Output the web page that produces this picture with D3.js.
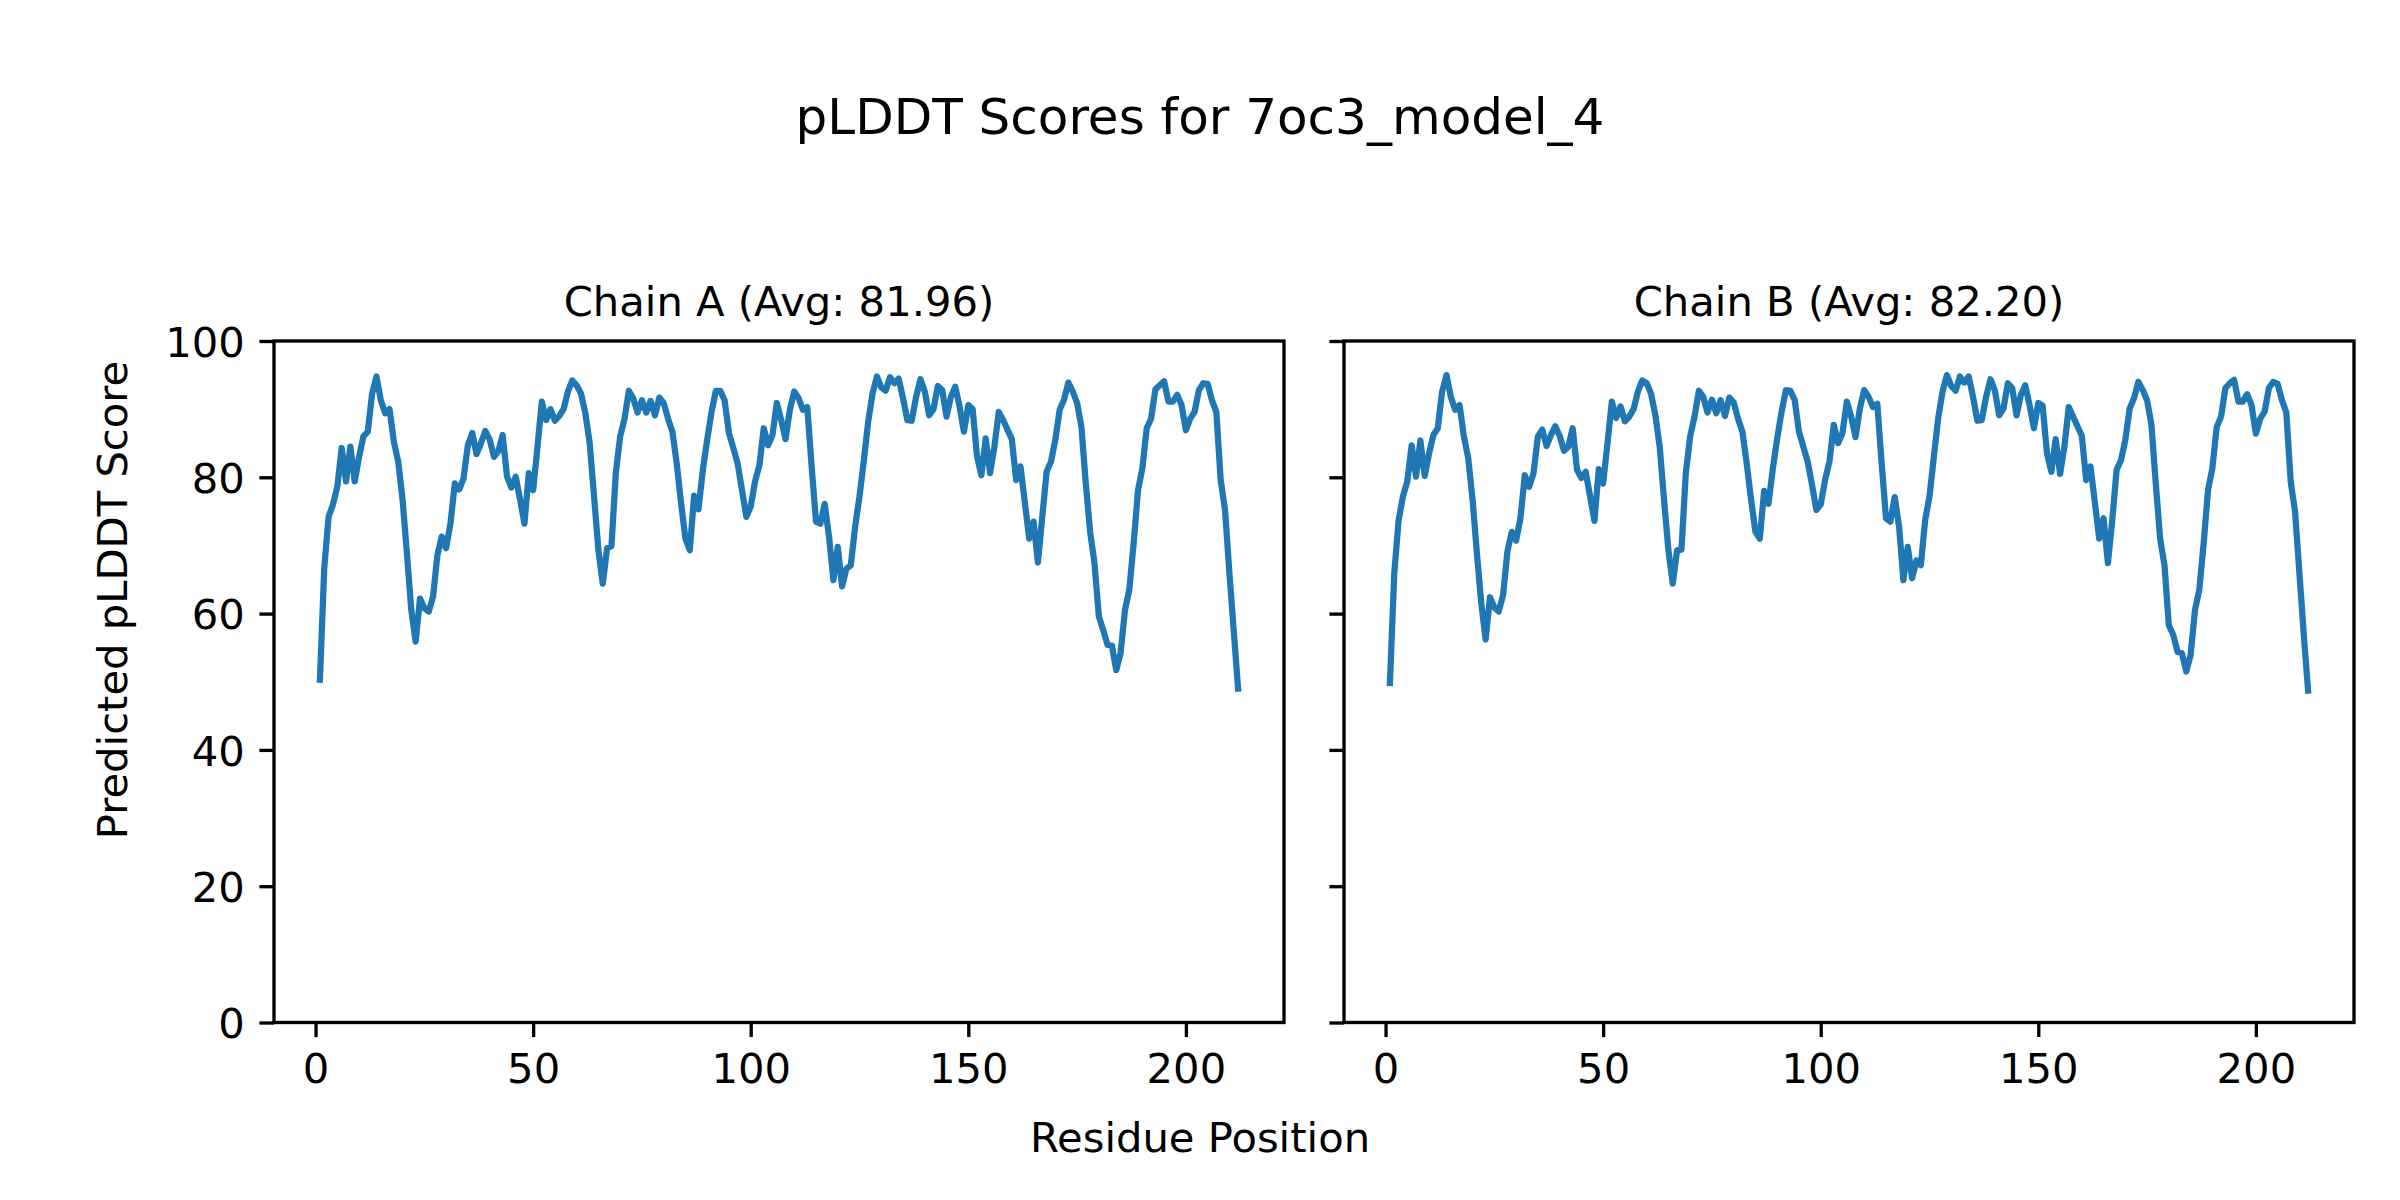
<!DOCTYPE html>
<html>
<head>
<meta charset="utf-8">
<script src="https://cdn.jsdelivr.net/npm/d3@7"></script>
<style>
  body { margin: 0; background: #fff; }
  text { font-family: "DejaVu Sans", sans-serif; fill: #000; }
</style>
</head>
<body>
<div id="chart"></div>
<script>
// pLDDT per residue
const chainA = [
    50.3, 66.7, 74.2, 76.0, 78.6, 84.3, 79.4, 84.5, 79.4, 83.0,
    86.0, 86.7, 92.3, 94.8, 91.3, 89.4, 90.0, 85.2, 82.3, 76.7,
    68.8, 60.5, 55.9, 62.2, 60.8, 60.3, 62.5, 68.6, 71.3, 69.6,
    73.2, 79.1, 78.2, 79.8, 84.7, 86.5, 83.4, 85.0, 86.8, 85.6,
    83.0, 83.8, 86.2, 80.1, 78.5, 80.1, 76.7, 73.2, 80.6, 78.1,
    84.5, 91.1, 88.4, 90.0, 88.3, 89.0, 90.0, 92.6, 94.2, 93.5,
    92.3, 89.4, 85.0, 77.2, 69.3, 64.4, 69.6, 69.9, 80.6, 86.0,
    88.6, 92.7, 91.6, 89.5, 91.3, 89.5, 91.2, 89.1, 91.7, 90.9,
    88.6, 86.7, 82.0, 76.2, 71.0, 69.3, 77.3, 75.3, 81.1, 85.5,
    89.6, 92.7, 92.7, 91.3, 86.5, 84.3, 82.0, 78.1, 74.2, 75.7,
    79.4, 81.8, 87.2, 84.7, 86.2, 90.9, 88.4, 85.6, 89.9, 92.6,
    91.6, 89.9, 90.3, 81.6, 73.5, 73.2, 76.1, 71.3, 64.9, 69.8,
    64.0, 66.6, 67.1, 72.8, 77.2, 82.5, 88.2, 92.3, 94.8, 93.2,
    92.7, 94.7, 93.8, 94.5, 91.6, 88.4, 88.3, 91.8, 94.4, 92.6,
    89.1, 90.0, 93.4, 92.8, 88.9, 91.8, 93.3, 90.4, 86.7, 90.6,
    90.0, 83.1, 80.3, 85.7, 80.6, 84.5, 89.6, 88.4, 87.0, 85.6,
    79.6, 81.6, 76.3, 71.0, 73.5, 67.5, 74.2, 80.8, 82.3, 85.5,
    89.9, 91.4, 93.9, 92.6, 90.9, 87.4, 79.1, 72.0, 67.4, 59.6,
    57.6, 55.4, 55.3, 51.7, 54.2, 60.5, 63.5, 70.3, 78.1, 81.3,
    87.2, 88.6, 92.9, 93.5, 94.1, 91.1, 91.1, 92.1, 90.6, 86.9,
    88.6, 89.6, 92.8, 93.8, 93.7, 91.3, 89.6, 79.6, 75.2, 66.0,
    57.5, 49.0
];
const chainB = [
    49.8, 65.9, 73.7, 77.2, 79.4, 84.7, 80.1, 85.4, 80.2, 83.5,
    86.2, 87.2, 92.6, 95.0, 91.8, 89.9, 90.6, 86.0, 82.8, 76.7,
    68.8, 61.5, 56.2, 62.4, 60.9, 60.3, 62.7, 69.1, 72.0, 70.7,
    74.0, 80.3, 78.6, 80.6, 86.0, 87.0, 84.6, 86.2, 87.5, 86.1,
    83.9, 84.5, 87.2, 81.1, 79.9, 80.8, 77.2, 73.6, 81.2, 79.1,
    85.0, 91.1, 88.7, 90.4, 88.2, 88.9, 90.0, 92.6, 94.2, 93.8,
    92.3, 89.1, 84.5, 76.7, 69.3, 64.4, 69.3, 69.4, 80.6, 86.0,
    88.9, 92.7, 91.8, 89.5, 91.4, 89.4, 91.3, 89.0, 91.7, 91.0,
    88.6, 86.7, 82.0, 76.7, 72.0, 71.0, 78.0, 76.1, 81.3, 85.7,
    89.6, 92.8, 92.7, 91.4, 86.7, 84.5, 82.3, 78.9, 75.2, 76.0,
    79.6, 82.3, 87.7, 85.0, 86.5, 91.1, 88.9, 85.9, 90.1, 92.8,
    91.8, 90.3, 90.8, 82.1, 74.0, 73.5, 77.1, 72.8, 64.9, 69.8,
    65.2, 67.8, 67.1, 73.7, 77.2, 83.0, 88.7, 92.6, 95.0, 93.4,
    92.7, 94.8, 93.9, 94.8, 91.8, 88.3, 88.4, 91.8, 94.4, 92.8,
    89.1, 90.1, 93.8, 93.1, 89.1, 92.1, 93.5, 90.6, 87.2, 90.9,
    90.5, 83.5, 80.8, 85.6, 80.5, 84.5, 90.3, 88.9, 87.5, 86.1,
    79.6, 81.6, 76.3, 71.0, 74.0, 67.4, 73.7, 81.1, 82.5, 85.5,
    90.1, 91.6, 94.0, 92.8, 91.3, 87.7, 79.1, 71.0, 67.1, 58.3,
    56.9, 54.4, 54.2, 51.5, 53.9, 60.5, 63.5, 70.3, 78.1, 81.3,
    87.4, 88.9, 93.1, 93.8, 94.3, 91.1, 91.1, 92.2, 90.6, 86.4,
    88.6, 89.6, 93.1, 94.0, 93.7, 91.3, 89.5, 79.4, 75.0, 66.0,
    57.0, 48.7
];
const chainNames = ['Chain A', 'Chain B'];
const chainAvgs = ['81.96', '82.20'];
const xTicks = [0, 50, 100, 150, 200];
const yTicks = [0, 20, 40, 60, 80, 100];
const figTitle = 'pLDDT Scores for 7oc3_model_4';
const xLabel = 'Residue Position';
const yLabel = 'Predicted pLDDT Score';

const width = 2400;
const height = 1200;
const axTop = 341;
const axBottom = 1022.5;
const axW = 1010;
const lefts = [274, 1344];
const tickLen = 14.6;
const spineW = 3.33;
const fontSize = '41.7px';

const svg = d3.select('#chart')
    .append('svg')
    .attr('width', width)
    .attr('height', height)
    .style('display', 'block');

svg.append('rect')
    .attr('width', width)
    .attr('height', height)
    .attr('fill', '#fff');

// figure texts
svg.append('text')
    .attr('x', width / 2)
    .attr('y', 134)
    .attr('text-anchor', 'middle')
    .style('font-size', '50px')
    .text(figTitle);

svg.append('text')
    .attr('x', width / 2)
    .attr('y', 1152)
    .attr('text-anchor', 'middle')
    .style('font-size', fontSize)
    .text(xLabel);

svg.append('text')
    .attr('transform', 'translate(127,600) rotate(-90)')
    .attr('text-anchor', 'middle')
    .style('font-size', fontSize)
    .text(yLabel);

const yScale = d3.scaleLinear()
    .domain([0, 100])
    .range([axBottom, axTop]);

[chainA, chainB].forEach((scores, i) => {
    const n = scores.length;
    const pad = (n - 1) * 0.05;
    const xScale = d3.scaleLinear()
        .domain([1 - pad, n + pad])
        .range([lefts[i], lefts[i] + axW]);

    const g = svg.append('g');

    // title
    g.append('text')
        .attr('x', lefts[i] + axW / 2)
        .attr('y', 316)
        .attr('text-anchor', 'middle')
        .style('font-size', fontSize)
        .text(`${chainNames[i]} (Avg: ${chainAvgs[i]})`);

    // line
    const line = d3.line()
        .x((d, j) => xScale(j + 1))
        .y(d => yScale(d));

    g.append('path')
        .datum(scores)
        .attr('fill', 'none')
        .attr('stroke', '#1f77b4')
        .attr('stroke-width', 6.25)
        .attr('stroke-linejoin', 'round')
        .attr('stroke-linecap', 'square')
        .attr('d', line);

    // x axis
    const xAxis = g.append('g')
        .attr('transform', `translate(0,${axBottom})`)
        .call(d3.axisBottom(xScale).tickValues(xTicks).tickSize(tickLen).tickPadding(14.6).tickFormat(d3.format('d')));
    xAxis.select('.domain').remove();
    xAxis.selectAll('line').attr('stroke', '#000').attr('stroke-width', spineW);
    xAxis.selectAll('text')
        .attr('y', 60.5)
        .attr('dy', null)
        .style('font-size', fontSize)
        .attr('font-family', null);

    // y axis
    const yAxis = g.append('g')
        .attr('transform', `translate(${lefts[i]},0)`)
        .call(d3.axisLeft(yScale).tickValues(yTicks).tickSize(tickLen).tickPadding(14.6));
    yAxis.select('.domain').remove();
    yAxis.selectAll('line').attr('stroke', '#000').attr('stroke-width', spineW);
    yAxis.selectAll('text')
        .attr('dy', '0.365em')
        .style('font-size', fontSize)
        .attr('font-family', null);
    if (i === 1) yAxis.selectAll('text').remove();

    // frame
    g.append('rect')
        .attr('x', lefts[i])
        .attr('y', axTop)
        .attr('width', axW)
        .attr('height', axBottom - axTop)
        .attr('fill', 'none')
        .attr('stroke', '#000')
        .attr('stroke-width', spineW);
});
</script>
</body>
</html>
